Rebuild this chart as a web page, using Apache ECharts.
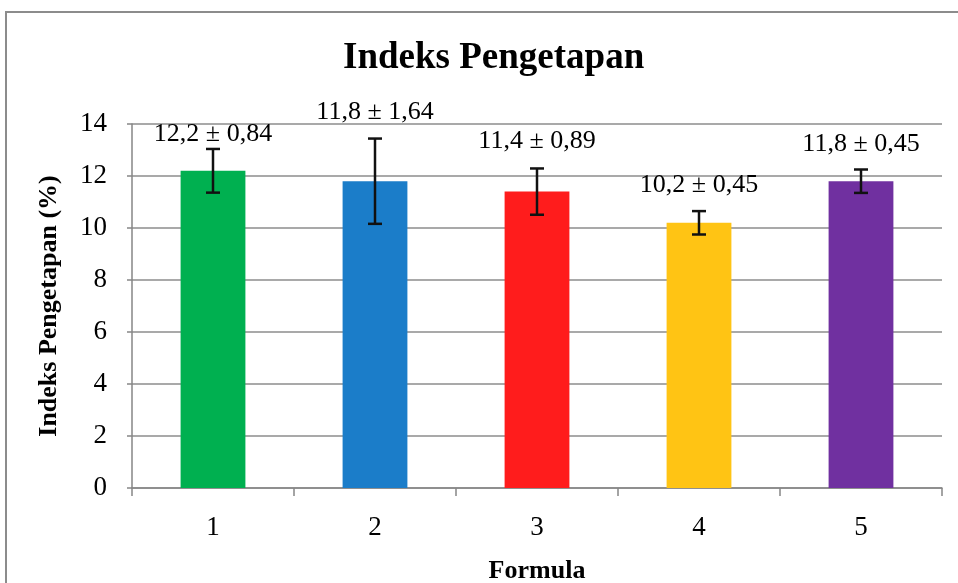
<!DOCTYPE html>
<html>
<head>
<meta charset="utf-8">
<script src="https://cdn.jsdelivr.net/npm/echarts@6/dist/echarts.min.js"></script>
<style>
  html, body { margin: 0; padding: 0; background: #fff; }
  #chart { width: 958px; height: 583px; }
</style>
</head>
<body>
<div id="chart"></div>
<script>
const formulas = ["1", "2", "3", "4", "5"];
const meanValues = [12.2, 11.8, 11.4, 10.2, 11.8];
const sdValues = [0.84, 1.64, 0.89, 0.45, 0.45];
const yTicks = [0, 2, 4, 6, 8, 10, 12, 14];

const barColors = ["#00b050", "#1b7dc9", "#ff1c1c", "#ffc414", "#7030a0"];
// jarak label di atas ujung error bar (px)
const labelGap = [15, 26, 27, 26, 25];

const fmtMean = v => v.toFixed(1).replace(".", ",");
const fmtSd = v => v.toFixed(2).replace(".", ",");

const chart = echarts.init(document.getElementById("chart"));
const serif = "Liberation Serif";

const errData = meanValues.map((m, i) => [i, m - sdValues[i], m + sdValues[i]]);

const option = {
    animation: false,
    backgroundColor: "#fff",
    title: {
        text: "Indeks Pengetapan",
        left: 338,
        top: 35,
        textStyle: { fontFamily: serif, fontWeight: "bold", fontSize: 37, color: "#000" }
    },
    graphic: [{
        type: "rect",
        shape: { x: 6, y: 12, width: 980, height: 600 },
        style: { fill: "none", stroke: "#8c8c8c", lineWidth: 2 },
        silent: true
    }],
    grid: { left: 132, right: 16, top: 124, bottom: 95, outerBoundsMode: "none" },
    xAxis: {
        type: "category",
        data: formulas,
        name: "Formula",
        nameLocation: "middle",
        nameGap: 70,
        nameTextStyle: { fontFamily: serif, fontWeight: "bold", fontSize: 26, color: "#000" },
        axisLine: { lineStyle: { color: "#868686", width: 1.5 } },
        axisTick: { show: true, length: 8, lineStyle: { color: "#868686", width: 1.5 } },
        axisLabel: { fontFamily: serif, fontSize: 27, color: "#000", margin: 26 }
    },
    yAxis: {
        type: "value",
        min: 0,
        max: 14,
        interval: 2,
        name: "Indeks Pengetapan (%)",
        nameLocation: "middle",
        nameGap: 70,
        nameTextStyle: { fontFamily: serif, fontWeight: "bold", fontSize: 26, color: "#000" },
        axisLine: { show: true, lineStyle: { color: "#868686", width: 1.5 } },
        axisTick: { show: true, length: 5, lineStyle: { color: "#868686", width: 1.5 } },
        splitLine: { lineStyle: { color: "#8c8c8c", width: 1.5 } },
        axisLabel: {
            fontFamily: serif, fontSize: 27, color: "#000", margin: 25,
            formatter: v => yTicks.includes(v) ? String(v) : ""
        }
    },
    series: [
        {
            type: "bar",
            barWidth: "40%",
            data: meanValues.map((v, i) => ({ value: v, itemStyle: { color: barColors[i] } }))
        },
        {
            type: "custom",
            z: 10,
            data: errData,
            renderItem: (params, api) => {
                const i = api.value(0);
                const lo = api.coord([i, api.value(1)]);
                const hi = api.coord([i, api.value(2)]);
                const cap = 7;
                const st = { stroke: "#111", lineWidth: 2.5 };
                return {
                    type: "group",
                    children: [
                        { type: "line", shape: { x1: hi[0], y1: hi[1], x2: lo[0], y2: lo[1] }, style: st },
                        { type: "line", shape: { x1: hi[0] - cap, y1: hi[1], x2: hi[0] + cap, y2: hi[1] }, style: st },
                        { type: "line", shape: { x1: lo[0] - cap, y1: lo[1], x2: lo[0] + cap, y2: lo[1] }, style: st },
                        {
                            type: "text",
                            x: hi[0],
                            y: hi[1] - labelGap[i],
                            style: {
                                text: fmtMean(meanValues[i]) + " ± " + fmtSd(sdValues[i]),
                                fontFamily: serif,
                                fontSize: 26,
                                fill: "#000",
                                align: "center",
                                verticalAlign: "middle"
                            }
                        }
                    ]
                };
            }
        }
    ]
};
chart.setOption(option);
window.addEventListener("resize", () => chart.resize());
</script>
</body>
</html>
